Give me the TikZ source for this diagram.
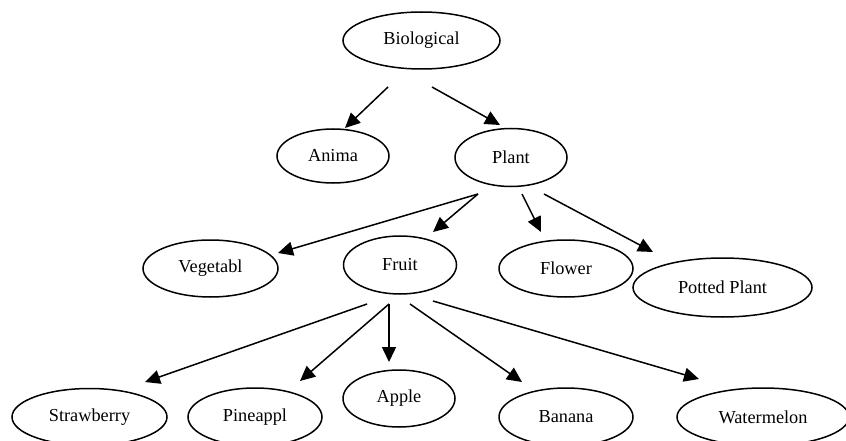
\documentclass[tikz,border=0pt]{standalone}
\usepackage{fontspec}
\setmainfont{Liberation Serif}
\usetikzlibrary{shapes.geometric,arrows.meta}
\begin{document}
\begin{tikzpicture}[x=1pt,y=-1pt,
  el/.style={draw, ellipse, line width=1.5pt, inner sep=0pt, font=\fontsize{18.3}{22}\selectfont},
  conn/.style={line width=1.5pt, -{Triangle[length=15pt,width=14pt]}}]
\useasboundingbox (0,0) rectangle (846,441);
\node[el, minimum width=157pt, minimum height=57pt] (bio) at (421.5,40.5) {Biological};
\node[el, minimum width=112pt, minimum height=54pt] (anima) at (333,156) {Anima};
\node[el, minimum width=112pt, minimum height=58pt] (plant) at (511,157.5) {Plant};
\node[el, minimum width=135pt, minimum height=57pt] (veg) at (210.5,268.5) {Vegetabl};
\node[el, minimum width=113pt, minimum height=58pt] (fruit) at (400,265) {Fruit};
\node[el, minimum width=134pt, minimum height=57pt] (flower) at (566,268.5) {Flower};
\node[el, minimum width=179pt, minimum height=59pt] (potted) at (722.5,287.5) {Potted Plant};
\node[el, minimum width=155pt, minimum height=57pt] (straw) at (89.5,417) {Strawberry};
\node[el, minimum width=134pt, minimum height=58pt] (pine) at (255,417) {Pineappl};
\node[el, minimum width=112pt, minimum height=57pt] (apple) at (399,398.5) {Apple};
\node[el, minimum width=134pt, minimum height=58pt] (banana) at (566,417) {Banana};
\node[el, minimum width=172pt, minimum height=58pt] (water) at (763,417) {Watermelon};
% tails
\coordinate (bioA) at (388,87);
\coordinate (bioB) at (432,87);
\coordinate (plantA) at (478,194);
\coordinate (plantB) at (522,194);
\coordinate (plantC) at (544,194);
\coordinate (fruitA) at (367,304);
\coordinate (fruitB) at (389,304);
\coordinate (fruitC) at (410,304);
\coordinate (fruitD) at (433,301);
% tips
\coordinate (animaT) at (345,128);
\coordinate (plantT) at (500,125);
\coordinate (vegT) at (278,253);
\coordinate (fruitT) at (433,232);
\coordinate (flowerT) at (541,232);
\coordinate (pottedT) at (653,252);
\coordinate (strawT) at (145,382);
\coordinate (pineT) at (300,381);
\coordinate (appleT) at (389,362);
\coordinate (bananaT) at (522,382);
\coordinate (waterT) at (699,379);
\draw[conn] (bioA) -- (animaT);
\draw[conn] (bioB) -- (plantT);
\draw[conn] (plantA) -- (vegT);
\draw[conn] (plantA) -- (fruitT);
\draw[conn] (plantB) -- (flowerT);
\draw[conn] (plantC) -- (pottedT);
\draw[conn] (fruitA) -- (strawT);
\draw[conn] (fruitB) -- (pineT);
\draw[conn] (fruitB) -- (appleT);
\draw[conn] (fruitC) -- (bananaT);
\draw[conn] (fruitD) -- (waterT);
\end{tikzpicture}
\end{document}
